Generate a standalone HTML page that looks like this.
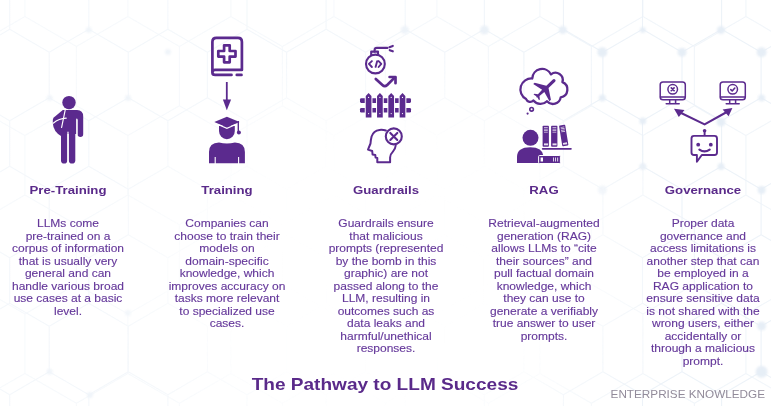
<!DOCTYPE html>
<html><head><meta charset="utf-8">
<style>
html,body{margin:0;padding:0;}
body{width:771px;height:406px;position:relative;overflow:hidden;background:#fff;font-family:"Liberation Sans",sans-serif;}
#bg{position:absolute;left:0;top:0;}
.col{position:absolute;width:160px;top:0;}
.t{position:absolute;left:0;width:160px;text-align:center;top:182px;font-weight:bold;font-size:11.3px;color:#5a2a8a;line-height:16px;white-space:nowrap;transform:scaleX(1.168);transform-origin:80px 0;}
.b{position:absolute;left:0;width:160px;text-align:center;top:218.0px;font-size:10px;line-height:12.5px;color:#65389a;-webkit-text-stroke:0.12px #65389a;white-space:nowrap;transform:scaleX(1.2);transform-origin:80px 0;}
.foot{position:absolute;left:185px;width:400px;text-align:center;top:375px;transform:scaleX(1.12);transform-origin:200px 0;font-weight:bold;font-size:17px;line-height:20px;color:#5a2a8a;white-space:nowrap;}
.ek{position:absolute;left:600px;width:165px;text-align:right;top:388px;transform:scaleX(1.066);transform-origin:165px 0;font-size:11px;line-height:13px;color:#928b9a;white-space:nowrap;}
svg.ic{position:absolute;overflow:visible;}
</style></head><body>
<svg id="bg" width="771" height="406">
<defs>
<linearGradient id="fade" x1="0" y1="0" x2="1" y2="0">
<stop offset="0" stop-color="#999"/>
<stop offset="0.5" stop-color="#aaa"/>
<stop offset="0.78" stop-color="#fff"/>
</linearGradient>
<radialGradient id="rg" cx="0.5" cy="0.5" r="0.5">
<stop offset="0" stop-color="#000" stop-opacity="1"/>
<stop offset="0.55" stop-color="#000" stop-opacity="0.95"/>
<stop offset="1" stop-color="#000" stop-opacity="0"/>
</radialGradient>
<mask id="m" maskUnits="userSpaceOnUse" x="0" y="0" width="771" height="406"><rect width="771" height="406" fill="url(#fade)"/><ellipse cx="390" cy="270" rx="300" ry="230" fill="url(#rg)"/></mask>
<filter id="bl2"><feGaussianBlur stdDeviation="0.5"/></filter>
<filter id="bl" x="-1" y="-1" width="3" height="3"><feGaussianBlur stdDeviation="1.2"/></filter>
</defs>
<g mask="url(#m)" opacity="0.8">
<path d="M-78.1,-161.8L-26.6,-132.0M-26.6,-132.0L-26.6,-72.6M-26.6,-72.6L-78.1,-42.8M-78.1,-42.8L-129.6,-72.6M-129.6,-72.6L-129.6,-132.0M-129.6,-132.0L-78.1,-161.8M24.9,-161.8L76.4,-132.0M76.4,-132.0L76.4,-72.6M76.4,-72.6L24.9,-42.8M24.9,-42.8L-26.6,-72.6M-26.6,-132.0L24.9,-161.8M127.9,-161.8L179.4,-132.0M179.4,-132.0L179.4,-72.6M179.4,-72.6L127.9,-42.8M127.9,-42.8L76.4,-72.6M76.4,-132.0L127.9,-161.8M230.9,-161.8L282.4,-132.0M282.4,-132.0L282.4,-72.6M282.4,-72.6L230.9,-42.8M230.9,-42.8L179.4,-72.6M179.4,-132.0L230.9,-161.8M333.9,-161.8L385.4,-132.0M385.4,-132.0L385.4,-72.6M385.4,-72.6L333.9,-42.8M333.9,-42.8L282.4,-72.6M282.4,-132.0L333.9,-161.8M436.9,-161.8L488.4,-132.0M488.4,-132.0L488.4,-72.6M488.4,-72.6L436.9,-42.8M436.9,-42.8L385.4,-72.6M385.4,-132.0L436.9,-161.8M539.9,-161.8L591.4,-132.0M591.4,-132.0L591.4,-72.6M591.4,-72.6L539.9,-42.8M539.9,-42.8L488.4,-72.6M488.4,-132.0L539.9,-161.8M642.9,-161.8L694.4,-132.0M694.4,-132.0L694.4,-72.6M694.4,-72.6L642.9,-42.8M642.9,-42.8L591.4,-72.6M591.4,-132.0L642.9,-161.8M745.9,-161.8L797.4,-132.0M797.4,-132.0L797.4,-72.6M797.4,-72.6L745.9,-42.8M745.9,-42.8L694.4,-72.6M694.4,-132.0L745.9,-161.8M848.9,-161.8L900.4,-132.0M900.4,-132.0L900.4,-72.6M900.4,-72.6L848.9,-42.8M848.9,-42.8L797.4,-72.6M797.4,-132.0L848.9,-161.8M24.9,-42.8L24.9,16.6M24.9,16.6L-26.6,46.4M-26.6,46.4L-78.1,16.6M-78.1,16.6L-78.1,-42.8M127.9,-42.8L127.9,16.6M127.9,16.6L76.4,46.4M76.4,46.4L24.9,16.6M230.9,-42.8L230.9,16.6M230.9,16.6L179.4,46.4M179.4,46.4L127.9,16.6M333.9,-42.8L333.9,16.6M333.9,16.6L282.4,46.4M282.4,46.4L230.9,16.6M436.9,-42.8L436.9,16.6M436.9,16.6L385.4,46.4M385.4,46.4L333.9,16.6M539.9,-42.8L539.9,16.6M539.9,16.6L488.4,46.4M488.4,46.4L436.9,16.6M642.9,-42.8L642.9,16.6M642.9,16.6L591.4,46.4M591.4,46.4L539.9,16.6M745.9,-42.8L745.9,16.6M745.9,16.6L694.4,46.4M694.4,46.4L642.9,16.6M848.9,-42.8L848.9,16.6M848.9,16.6L797.4,46.4M797.4,46.4L745.9,16.6M-26.6,46.4L-26.6,105.8M-26.6,105.8L-78.1,135.6M-78.1,135.6L-129.6,105.8M-129.6,105.8L-129.6,46.4M-129.6,46.4L-78.1,16.6M76.4,46.4L76.4,105.8M76.4,105.8L24.9,135.6M24.9,135.6L-26.6,105.8M179.4,46.4L179.4,105.8M179.4,105.8L127.9,135.6M127.9,135.6L76.4,105.8M282.4,46.4L282.4,105.8M282.4,105.8L230.9,135.6M230.9,135.6L179.4,105.8M385.4,46.4L385.4,105.8M385.4,105.8L333.9,135.6M333.9,135.6L282.4,105.8M488.4,46.4L488.4,105.8M488.4,105.8L436.9,135.6M436.9,135.6L385.4,105.8M591.4,46.4L591.4,105.8M591.4,105.8L539.9,135.6M539.9,135.6L488.4,105.8M694.4,46.4L694.4,105.8M694.4,105.8L642.9,135.6M642.9,135.6L591.4,105.8M797.4,46.4L797.4,105.8M797.4,105.8L745.9,135.6M745.9,135.6L694.4,105.8M848.9,16.6L900.4,46.4M900.4,46.4L900.4,105.8M900.4,105.8L848.9,135.6M848.9,135.6L797.4,105.8M24.9,135.6L24.9,195.0M24.9,195.0L-26.6,224.8M-26.6,224.8L-78.1,195.0M-78.1,195.0L-78.1,135.6M127.9,135.6L127.9,195.0M127.9,195.0L76.4,224.8M76.4,224.8L24.9,195.0M230.9,135.6L230.9,195.0M230.9,195.0L179.4,224.8M179.4,224.8L127.9,195.0M333.9,135.6L333.9,195.0M333.9,195.0L282.4,224.8M282.4,224.8L230.9,195.0M436.9,135.6L436.9,195.0M436.9,195.0L385.4,224.8M385.4,224.8L333.9,195.0M539.9,135.6L539.9,195.0M539.9,195.0L488.4,224.8M488.4,224.8L436.9,195.0M642.9,135.6L642.9,195.0M642.9,195.0L591.4,224.8M591.4,224.8L539.9,195.0M745.9,135.6L745.9,195.0M745.9,195.0L694.4,224.8M694.4,224.8L642.9,195.0M848.9,135.6L848.9,195.0M848.9,195.0L797.4,224.8M797.4,224.8L745.9,195.0M-26.6,224.8L-26.6,284.2M-26.6,284.2L-78.1,314.0M-78.1,314.0L-129.6,284.2M-129.6,284.2L-129.6,224.8M-129.6,224.8L-78.1,195.0M76.4,224.8L76.4,284.2M76.4,284.2L24.9,314.0M24.9,314.0L-26.6,284.2M179.4,224.8L179.4,284.2M179.4,284.2L127.9,314.0M127.9,314.0L76.4,284.2M282.4,224.8L282.4,284.2M282.4,284.2L230.9,314.0M230.9,314.0L179.4,284.2M385.4,224.8L385.4,284.2M385.4,284.2L333.9,314.0M333.9,314.0L282.4,284.2M488.4,224.8L488.4,284.2M488.4,284.2L436.9,314.0M436.9,314.0L385.4,284.2M591.4,224.8L591.4,284.2M591.4,284.2L539.9,314.0M539.9,314.0L488.4,284.2M694.4,224.8L694.4,284.2M694.4,284.2L642.9,314.0M642.9,314.0L591.4,284.2M797.4,224.8L797.4,284.2M797.4,284.2L745.9,314.0M745.9,314.0L694.4,284.2M848.9,195.0L900.4,224.8M900.4,224.8L900.4,284.2M900.4,284.2L848.9,314.0M848.9,314.0L797.4,284.2M24.9,314.0L24.9,373.4M24.9,373.4L-26.6,403.2M-26.6,403.2L-78.1,373.4M-78.1,373.4L-78.1,314.0M127.9,314.0L127.9,373.4M127.9,373.4L76.4,403.2M76.4,403.2L24.9,373.4M230.9,314.0L230.9,373.4M230.9,373.4L179.4,403.2M179.4,403.2L127.9,373.4M333.9,314.0L333.9,373.4M333.9,373.4L282.4,403.2M282.4,403.2L230.9,373.4M436.9,314.0L436.9,373.4M436.9,373.4L385.4,403.2M385.4,403.2L333.9,373.4M539.9,314.0L539.9,373.4M539.9,373.4L488.4,403.2M488.4,403.2L436.9,373.4M642.9,314.0L642.9,373.4M642.9,373.4L591.4,403.2M591.4,403.2L539.9,373.4M745.9,314.0L745.9,373.4M745.9,373.4L694.4,403.2M694.4,403.2L642.9,373.4M848.9,314.0L848.9,373.4M848.9,373.4L797.4,403.2M797.4,403.2L745.9,373.4M-26.6,403.2L-26.6,462.6M-26.6,462.6L-78.1,492.4M-78.1,492.4L-129.6,462.6M-129.6,462.6L-129.6,403.2M-129.6,403.2L-78.1,373.4M76.4,403.2L76.4,462.6M76.4,462.6L24.9,492.4M24.9,492.4L-26.6,462.6M179.4,403.2L179.4,462.6M179.4,462.6L127.9,492.4M127.9,492.4L76.4,462.6M282.4,403.2L282.4,462.6M282.4,462.6L230.9,492.4M230.9,492.4L179.4,462.6M385.4,403.2L385.4,462.6M385.4,462.6L333.9,492.4M333.9,492.4L282.4,462.6M488.4,403.2L488.4,462.6M488.4,462.6L436.9,492.4M436.9,492.4L385.4,462.6M591.4,403.2L591.4,462.6M591.4,462.6L539.9,492.4M539.9,492.4L488.4,462.6M694.4,403.2L694.4,462.6M694.4,462.6L642.9,492.4M642.9,492.4L591.4,462.6M797.4,403.2L797.4,462.6M797.4,462.6L745.9,492.4M745.9,492.4L694.4,462.6M848.9,373.4L900.4,403.2M900.4,403.2L900.4,462.6M900.4,462.6L848.9,492.4M848.9,492.4L797.4,462.6M24.9,492.4L24.9,551.8M24.9,551.8L-26.6,581.6M-26.6,581.6L-78.1,551.8M-78.1,551.8L-78.1,492.4M127.9,492.4L127.9,551.8M127.9,551.8L76.4,581.6M76.4,581.6L24.9,551.8M230.9,492.4L230.9,551.8M230.9,551.8L179.4,581.6M179.4,581.6L127.9,551.8M333.9,492.4L333.9,551.8M333.9,551.8L282.4,581.6M282.4,581.6L230.9,551.8M436.9,492.4L436.9,551.8M436.9,551.8L385.4,581.6M385.4,581.6L333.9,551.8M539.9,492.4L539.9,551.8M539.9,551.8L488.4,581.6M488.4,581.6L436.9,551.8M642.9,492.4L642.9,551.8M642.9,551.8L591.4,581.6M591.4,581.6L539.9,551.8M745.9,492.4L745.9,551.8M745.9,551.8L694.4,581.6M694.4,581.6L642.9,551.8M848.9,492.4L848.9,551.8M848.9,551.8L797.4,581.6M797.4,581.6L745.9,551.8" stroke="#e9f0f7" stroke-width="1.1" fill="none" opacity="0.75" filter="url(#bl2)"/>
<path d="M-69.4,-107.7L-29.8,-84.8M-29.8,-84.8L-29.8,-39.2M-29.8,-39.2L-69.4,-16.3M-69.4,-16.3L-108.9,-39.2M-108.9,-39.2L-108.9,-84.8M-108.9,-84.8L-69.4,-107.7M9.7,-107.7L49.2,-84.8M49.2,-84.8L49.2,-39.2M49.2,-39.2L9.7,-16.3M9.7,-16.3L-29.8,-39.2M-29.8,-84.8L9.7,-107.7M88.8,-107.7L128.3,-84.8M128.3,-84.8L128.3,-39.2M128.3,-39.2L88.8,-16.3M88.8,-16.3L49.2,-39.2M49.2,-84.8L88.8,-107.7M167.9,-107.7L207.4,-84.8M207.4,-84.8L207.4,-39.2M207.4,-39.2L167.9,-16.3M167.9,-16.3L128.3,-39.2M128.3,-84.8L167.9,-107.7M247.0,-107.7L286.6,-84.8M286.6,-84.8L286.6,-39.2M286.6,-39.2L247.0,-16.3M247.0,-16.3L207.4,-39.2M207.4,-84.8L247.0,-107.7M326.1,-107.7L365.6,-84.8M365.6,-84.8L365.6,-39.2M365.6,-39.2L326.1,-16.3M326.1,-16.3L286.5,-39.2M286.5,-39.2L286.5,-84.8M286.5,-84.8L326.1,-107.7M405.2,-107.7L444.8,-84.8M444.8,-84.8L444.8,-39.2M444.8,-39.2L405.2,-16.3M405.2,-16.3L365.6,-39.2M365.6,-84.8L405.2,-107.7M484.3,-107.7L523.9,-84.8M523.9,-84.8L523.9,-39.2M523.9,-39.2L484.3,-16.3M484.3,-16.3L444.8,-39.2M444.8,-84.8L484.3,-107.7M563.4,-107.7L602.9,-84.8M602.9,-84.8L602.9,-39.2M602.9,-39.2L563.4,-16.3M563.4,-16.3L523.9,-39.2M523.9,-84.8L563.4,-107.7M642.5,-107.7L682.0,-84.8M682.0,-84.8L682.0,-39.2M682.0,-39.2L642.5,-16.3M642.5,-16.3L602.9,-39.2M602.9,-84.8L642.5,-107.7M721.6,-107.7L761.1,-84.8M761.1,-84.8L761.1,-39.2M761.1,-39.2L721.6,-16.3M721.6,-16.3L682.0,-39.2M682.0,-84.8L721.6,-107.7M800.7,-107.7L840.2,-84.8M840.2,-84.8L840.2,-39.2M840.2,-39.2L800.7,-16.3M800.7,-16.3L761.1,-39.2M761.1,-84.8L800.7,-107.7M9.7,-16.3L9.7,29.3M9.7,29.3L-29.8,52.2M-29.8,52.2L-69.4,29.3M-69.4,29.3L-69.4,-16.3M88.8,-16.3L88.8,29.3M88.8,29.3L49.2,52.2M49.2,52.2L9.7,29.3M167.9,-16.3L167.9,29.3M167.9,29.3L128.3,52.2M128.3,52.2L88.8,29.3M247.0,-16.3L247.0,29.3M247.0,29.3L207.4,52.2M207.4,52.2L167.9,29.3M326.1,-16.3L326.1,29.3M326.1,29.3L286.5,52.2M286.5,52.2L247.0,29.3M247.0,-16.3L286.5,-39.2M405.2,-16.3L405.2,29.3M405.2,29.3L365.6,52.2M365.6,52.2L326.1,29.3M484.3,-16.3L484.3,29.3M484.3,29.3L444.8,52.2M444.8,52.2L405.2,29.3M563.4,-16.3L563.4,29.3M563.4,29.3L523.9,52.2M523.9,52.2L484.3,29.3M642.5,-16.3L642.5,29.3M642.5,29.3L602.9,52.2M602.9,52.2L563.4,29.3M721.6,-16.3L721.6,29.3M721.6,29.3L682.0,52.2M682.0,52.2L642.5,29.3M800.7,-16.3L800.7,29.3M800.7,29.3L761.1,52.2M761.1,52.2L721.6,29.3M840.2,-39.2L879.8,-16.3M879.8,-16.3L879.8,29.3M879.8,29.3L840.2,52.2M840.2,52.2L800.7,29.3M-29.8,52.2L-29.8,97.8M-29.8,97.8L-69.4,120.7M-69.4,120.7L-108.9,97.8M-108.9,97.8L-108.9,52.2M-108.9,52.2L-69.4,29.3M49.2,52.2L49.2,97.8M49.2,97.8L9.7,120.7M9.7,120.7L-29.8,97.8M128.3,52.2L128.3,97.8M128.3,97.8L88.8,120.7M88.8,120.7L49.2,97.8M207.4,52.2L207.4,97.8M207.4,97.8L167.9,120.7M167.9,120.7L128.3,97.8M247.0,29.3L286.6,52.2M286.6,52.2L286.6,97.8M286.6,97.8L247.0,120.7M247.0,120.7L207.4,97.8M365.6,52.2L365.6,97.8M365.6,97.8L326.1,120.7M326.1,120.7L286.5,97.8M286.5,97.8L286.5,52.2M444.8,52.2L444.8,97.8M444.8,97.8L405.2,120.7M405.2,120.7L365.6,97.8M523.9,52.2L523.9,97.8M523.9,97.8L484.3,120.7M484.3,120.7L444.8,97.8M602.9,52.2L602.9,97.8M602.9,97.8L563.4,120.7M563.4,120.7L523.9,97.8M682.0,52.2L682.0,97.8M682.0,97.8L642.5,120.7M642.5,120.7L602.9,97.8M761.1,52.2L761.1,97.8M761.1,97.8L721.6,120.7M721.6,120.7L682.0,97.8M840.2,52.2L840.2,97.8M840.2,97.8L800.7,120.7M800.7,120.7L761.1,97.8M9.7,120.7L9.7,166.3M9.7,166.3L-29.8,189.2M-29.8,189.2L-69.4,166.3M-69.4,166.3L-69.4,120.7M88.8,120.7L88.8,166.3M88.8,166.3L49.2,189.2M49.2,189.2L9.7,166.3M167.9,120.7L167.9,166.3M167.9,166.3L128.3,189.2M128.3,189.2L88.8,166.3M247.0,120.7L247.0,166.3M247.0,166.3L207.4,189.2M207.4,189.2L167.9,166.3M326.1,120.7L326.1,166.3M326.1,166.3L286.5,189.2M286.5,189.2L247.0,166.3M247.0,120.7L286.5,97.8M405.2,120.7L405.2,166.3M405.2,166.3L365.6,189.2M365.6,189.2L326.1,166.3M484.3,120.7L484.3,166.3M484.3,166.3L444.8,189.2M444.8,189.2L405.2,166.3M563.4,120.7L563.4,166.3M563.4,166.3L523.9,189.2M523.9,189.2L484.3,166.3M642.5,120.7L642.5,166.3M642.5,166.3L602.9,189.2M602.9,189.2L563.4,166.3M721.6,120.7L721.6,166.3M721.6,166.3L682.0,189.2M682.0,189.2L642.5,166.3M800.7,120.7L800.7,166.3M800.7,166.3L761.1,189.2M761.1,189.2L721.6,166.3M840.2,97.8L879.8,120.7M879.8,120.7L879.8,166.3M879.8,166.3L840.2,189.2M840.2,189.2L800.7,166.3M-29.8,189.2L-29.8,234.8M-29.8,234.8L-69.4,257.7M-69.4,257.7L-108.9,234.8M-108.9,234.8L-108.9,189.2M-108.9,189.2L-69.4,166.3M49.2,189.2L49.2,234.8M49.2,234.8L9.7,257.7M9.7,257.7L-29.8,234.8M128.3,189.2L128.3,234.8M128.3,234.8L88.8,257.7M88.8,257.7L49.2,234.8M207.4,189.2L207.4,234.8M207.4,234.8L167.9,257.7M167.9,257.7L128.3,234.8M247.0,166.3L286.6,189.2M286.6,189.2L286.6,234.8M286.6,234.8L247.0,257.7M247.0,257.7L207.4,234.8M365.6,189.2L365.6,234.8M365.6,234.8L326.1,257.7M326.1,257.7L286.5,234.8M286.5,234.8L286.5,189.2M444.8,189.2L444.8,234.8M444.8,234.8L405.2,257.7M405.2,257.7L365.6,234.8M523.9,189.2L523.9,234.8M523.9,234.8L484.3,257.7M484.3,257.7L444.8,234.8M602.9,189.2L602.9,234.8M602.9,234.8L563.4,257.7M563.4,257.7L523.9,234.8M682.0,189.2L682.0,234.8M682.0,234.8L642.5,257.7M642.5,257.7L602.9,234.8M761.1,189.2L761.1,234.8M761.1,234.8L721.6,257.7M721.6,257.7L682.0,234.8M840.2,189.2L840.2,234.8M840.2,234.8L800.7,257.7M800.7,257.7L761.1,234.8M9.7,257.7L9.7,303.3M9.7,303.3L-29.8,326.2M-29.8,326.2L-69.4,303.3M-69.4,303.3L-69.4,257.7M88.8,257.7L88.8,303.3M88.8,303.3L49.2,326.2M49.2,326.2L9.7,303.3M167.9,257.7L167.9,303.3M167.9,303.3L128.3,326.2M128.3,326.2L88.8,303.3M247.0,257.7L247.0,303.3M247.0,303.3L207.4,326.2M207.4,326.2L167.9,303.3M326.1,257.7L326.1,303.3M326.1,303.3L286.5,326.2M286.5,326.2L247.0,303.3M247.0,257.7L286.5,234.8M405.2,257.7L405.2,303.3M405.2,303.3L365.6,326.2M365.6,326.2L326.1,303.3M484.3,257.7L484.3,303.3M484.3,303.3L444.8,326.2M444.8,326.2L405.2,303.3M563.4,257.7L563.4,303.3M563.4,303.3L523.9,326.2M523.9,326.2L484.3,303.3M642.5,257.7L642.5,303.3M642.5,303.3L602.9,326.2M602.9,326.2L563.4,303.3M721.6,257.7L721.6,303.3M721.6,303.3L682.0,326.2M682.0,326.2L642.5,303.3M800.7,257.7L800.7,303.3M800.7,303.3L761.1,326.2M761.1,326.2L721.6,303.3M840.2,234.8L879.8,257.7M879.8,257.7L879.8,303.3M879.8,303.3L840.2,326.2M840.2,326.2L800.7,303.3M-29.8,326.2L-29.8,371.8M-29.8,371.8L-69.4,394.7M-69.4,394.7L-108.9,371.8M-108.9,371.8L-108.9,326.2M-108.9,326.2L-69.4,303.3M49.2,326.2L49.2,371.8M49.2,371.8L9.7,394.7M9.7,394.7L-29.8,371.8M128.3,326.2L128.3,371.8M128.3,371.8L88.8,394.7M88.8,394.7L49.2,371.8M207.4,326.2L207.4,371.8M207.4,371.8L167.9,394.7M167.9,394.7L128.3,371.8M247.0,303.3L286.6,326.2M286.6,326.2L286.6,371.8M286.6,371.8L247.0,394.7M247.0,394.7L207.4,371.8M365.6,326.2L365.6,371.8M365.6,371.8L326.1,394.7M326.1,394.7L286.5,371.8M286.5,371.8L286.5,326.2M444.8,326.2L444.8,371.8M444.8,371.8L405.2,394.7M405.2,394.7L365.6,371.8M523.9,326.2L523.9,371.8M523.9,371.8L484.3,394.7M484.3,394.7L444.8,371.8M602.9,326.2L602.9,371.8M602.9,371.8L563.4,394.7M563.4,394.7L523.9,371.8M682.0,326.2L682.0,371.8M682.0,371.8L642.5,394.7M642.5,394.7L602.9,371.8M761.1,326.2L761.1,371.8M761.1,371.8L721.6,394.7M721.6,394.7L682.0,371.8M840.2,326.2L840.2,371.8M840.2,371.8L800.7,394.7M800.7,394.7L761.1,371.8M9.7,394.7L9.7,440.3M9.7,440.3L-29.8,463.2M-29.8,463.2L-69.4,440.3M-69.4,440.3L-69.4,394.7M88.8,394.7L88.8,440.3M88.8,440.3L49.2,463.2M49.2,463.2L9.7,440.3M167.9,394.7L167.9,440.3M167.9,440.3L128.3,463.2M128.3,463.2L88.8,440.3M247.0,394.7L247.0,440.3M247.0,440.3L207.4,463.2M207.4,463.2L167.9,440.3M326.1,394.7L326.1,440.3M326.1,440.3L286.5,463.2M286.5,463.2L247.0,440.3M247.0,394.7L286.5,371.8M405.2,394.7L405.2,440.3M405.2,440.3L365.6,463.2M365.6,463.2L326.1,440.3M484.3,394.7L484.3,440.3M484.3,440.3L444.8,463.2M444.8,463.2L405.2,440.3M563.4,394.7L563.4,440.3M563.4,440.3L523.9,463.2M523.9,463.2L484.3,440.3M642.5,394.7L642.5,440.3M642.5,440.3L602.9,463.2M602.9,463.2L563.4,440.3M721.6,394.7L721.6,440.3M721.6,440.3L682.0,463.2M682.0,463.2L642.5,440.3M800.7,394.7L800.7,440.3M800.7,440.3L761.1,463.2M761.1,463.2L721.6,440.3M840.2,371.8L879.8,394.7M879.8,394.7L879.8,440.3M879.8,440.3L840.2,463.2M840.2,463.2L800.7,440.3M-29.8,463.2L-29.8,508.8M-29.8,508.8L-69.4,531.7M-69.4,531.7L-108.9,508.8M-108.9,508.8L-108.9,463.2M-108.9,463.2L-69.4,440.3M49.2,463.2L49.2,508.8M49.2,508.8L9.7,531.7M9.7,531.7L-29.8,508.8M128.3,463.2L128.3,508.8M128.3,508.8L88.8,531.7M88.8,531.7L49.2,508.8M207.4,463.2L207.4,508.8M207.4,508.8L167.9,531.7M167.9,531.7L128.3,508.8M247.0,440.3L286.6,463.2M286.6,463.2L286.6,508.8M286.6,508.8L247.0,531.7M247.0,531.7L207.4,508.8M365.6,463.2L365.6,508.8M365.6,508.8L326.1,531.7M326.1,531.7L286.5,508.8M286.5,508.8L286.5,463.2M444.8,463.2L444.8,508.8M444.8,508.8L405.2,531.7M405.2,531.7L365.6,508.8M523.9,463.2L523.9,508.8M523.9,508.8L484.3,531.7M484.3,531.7L444.8,508.8M602.9,463.2L602.9,508.8M602.9,508.8L563.4,531.7M563.4,531.7L523.9,508.8M682.0,463.2L682.0,508.8M682.0,508.8L642.5,531.7M642.5,531.7L602.9,508.8M761.1,463.2L761.1,508.8M761.1,508.8L721.6,531.7M721.6,531.7L682.0,508.8M840.2,463.2L840.2,508.8M840.2,508.8L800.7,531.7M800.7,531.7L761.1,508.8" stroke="#e9f0f7" stroke-width="1.1" fill="none" filter="url(#bl2)"/>
<g fill="#e1eaf4" filter="url(#bl)"><circle cx="88.8" cy="30" r="3"/><circle cx="128" cy="98" r="3"/><circle cx="404.8" cy="30" r="4"/><circle cx="484.4" cy="30" r="4.5"/><circle cx="562.8" cy="30" r="4"/><circle cx="602.3" cy="52.2" r="5"/><circle cx="682" cy="52.2" r="4.5"/><circle cx="721" cy="30" r="4"/><circle cx="761.6" cy="52.2" r="5"/><circle cx="642.8" cy="30" r="3"/><circle cx="602.3" cy="98" r="3.5"/><circle cx="761.6" cy="98" r="3.5"/><circle cx="642.8" cy="120.9" r="3.5"/><circle cx="721" cy="122" r="4.5"/><circle cx="642.8" cy="166.6" r="3.5"/><circle cx="721" cy="166.6" r="3.5"/><circle cx="602.3" cy="190" r="4.5"/><circle cx="761.6" cy="190" r="4"/><circle cx="761.6" cy="326" r="4.5"/><circle cx="761.6" cy="371.8" r="6"/><circle cx="49.6" cy="371.8" r="3"/><circle cx="90" cy="395" r="3"/><circle cx="128" cy="313" r="3"/><circle cx="49.6" cy="98" r="3"/><circle cx="168" cy="52" r="3"/></g>
</g>
</svg>

<div class="col" style="left:-11.9px">
<div class="t">Pre-Training</div>
<div class="b">LLMs come<br>pre-trained on a<br>corpus of information<br>that is usually very<br>general and can<br>handle various broad<br>use cases at a basic<br>level.</div>
</div>

<div class="col" style="left:146.7px">
<div class="t">Training</div>
<div class="b">Companies can<br>choose to train their<br>models on<br>domain-specific<br>knowledge, which<br>improves accuracy on<br>tasks more relevant<br>to specialized use<br>cases.</div>
</div>

<div class="col" style="left:305.5px">
<div class="t">Guardrails</div>
<div class="b">Guardrails ensure<br>that malicious<br>prompts (represented<br>by the bomb in this<br>graphic) are not<br>passed along to the<br>LLM, resulting in<br>outcomes such as<br>data leaks and<br>harmful/unethical<br>responses.</div>
</div>

<div class="col" style="left:464.2px">
<div class="t">RAG</div>
<div class="b">Retrieval-augmented<br>generation (RAG)<br>allows LLMs to “cite<br>their sources” and<br>pull factual domain<br>knowledge, which<br>they can use to<br>generate a verifiably<br>true answer to user<br>prompts.</div>
</div>

<div class="col" style="left:622.6px">
<div class="t">Governance</div>
<div class="b">Proper data<br>governance and<br>access limitations is<br>another step that can<br>be employed in a<br>RAG application to<br>ensure sensitive data<br>is not shared with the<br>wrong users, either<br>accidentally or<br>through a malicious<br>prompt.</div>
</div>

<svg class="ic" width="771" height="406" style="left:0;top:0">
<g fill="#5b2a8e" stroke="none">
<!-- Pre-Training person -->
<circle cx="69" cy="102.6" r="6.7"/>
<path d="M61,134 V115 Q61,110 66,110 H77 Q83.2,110 83.2,116.5 V134.3 Q83.2,137 80.4,137 Q77.6,137 77.6,134.3 V119.5 L76.6,119.5 V134 Z"/>
<path d="M66,110 H62.8 L53.8,117.6 Q52.8,118.6 52.8,120.5 V123 Q53.3,131.5 61,136 H66 Z"/>
<path d="M61,130 H67.3 V160.4 Q67.3,163.5 64.15,163.5 Q61,163.5 61,160.4 Z"/>
<path d="M68.8,130 H75.3 V160.4 Q75.3,163.5 72.05,163.5 Q68.8,163.5 68.8,160.4 Z"/>
</g>
<g fill="none" stroke="#fff" stroke-width="1.2" stroke-linecap="round">
<path d="M65.3,109.5 L61.6,127.5"/>
<path d="M53.2,123.2 Q59,118.5 66.2,118.2"/>
<path d="M76.8,119 V135"/>
<path d="M68,132 V164"/>
</g>
<!-- Training -->
<g fill="none" stroke="#5b2a8e" stroke-width="2.7" stroke-linecap="round" stroke-linejoin="round">
<path d="M231.5,74.9 H215.2 Q212.4,74.9 212.4,72.4 V41.9 Q212.4,37.9 216.4,37.9 H237.9 Q241.9,37.9 241.9,41.9 V69.9 H215.2 Q212.4,69.9 212.4,72.4"/>
<path d="M236.8,74.9 H241.5"/>
<path d="M224.1,45.3 H229.7 V51 H235.5 V56.6 H229.7 V62.3 H224.1 V56.6 H218.3 V51 H224.1 Z"/>
</g>
<g fill="#5b2a8e">
<rect x="225.9" y="82" width="1.8" height="19"/>
<path d="M222.9,99.4 H231.1 L226.8,110.2 Z"/>
<!-- graduate -->
<path d="M214.3,122 L226.9,116.8 L239.6,122 L226.9,127.6 Z"/>
<path d="M238.4,122 V131"/>
<circle cx="238.9" cy="132.6" r="2"/>
<path d="M219,126 H234.8 V131 A7.9,8.2 0 0 1 219,131 Z"/>
<path d="M209,163.2 V152 Q209,143 219,142.6 Q226.9,144.5 234.9,142.6 Q244.9,143 244.9,152 V163.2 Z"/>
</g>
<rect x="237.6" y="121" width="1.4" height="11" fill="#5b2a8e"/>
<g fill="none" stroke="#fff" stroke-width="1.1">
<path d="M218.5,124.8 L226.9,128.3 L235.3,124.8"/>
<path d="M215.2,157 V164 M238.6,157 V164"/>
</g>
<!-- Guardrails bomb -->
<g fill="none" stroke="#5b2a8e" stroke-width="2.1" stroke-linecap="round" stroke-linejoin="round">
<circle cx="375.4" cy="64" r="9.4"/>
<path d="M371.2,55 V51.6 H378 V55"/>
<path d="M374.6,51.6 V50 Q374.6,47.9 377,47.9 H387.5"/>
<path d="M389.4,47.2 L392.8,45.9 M389.7,50.2 L392.8,51.3"/>
<path d="M371.9,61.1 L368.9,63.9 L371.9,67 M378.6,61.1 L381.3,63.9 L378.6,67 M377.2,61.1 L375.6,66.9" stroke-width="1.9"/>
<path d="M375.8,79 L382.4,85.1 Q384.8,87.3 387.2,85 L394.8,77.4" stroke-width="2.7"/>
<path d="M389.6,77 H395.5 V83.2" stroke-width="2.7"/>
</g>
<!-- fence -->
<g fill="#5b2a8e">
<rect x="360" y="98.2" width="51" height="4.7" rx="1.3"/>
<rect x="360" y="107.9" width="51" height="4.7" rx="1.3"/>
</g>
<g fill="#5b2a8e" stroke="#fff" stroke-width="2" paint-order="stroke" stroke-linejoin="round">
<path d="M365.75,117.6 V96 L368.6,93 L371.45,96 V117.6 Z"/>
<path d="M377.05,117.6 V96 L379.9,93 L382.75,96 V117.6 Z"/>
<path d="M388.35,117.6 V96 L391.2,93 L394.05,96 V117.6 Z"/>
<path d="M399.65,117.6 V96 L402.5,93 L405.35,96 V117.6 Z"/>
</g>
<g fill="#fff">
<circle cx="368.6" cy="97.4" r="0.6"/><circle cx="379.9" cy="97.4" r="0.6"/><circle cx="391.2" cy="97.4" r="0.6"/><circle cx="402.5" cy="97.4" r="0.6"/>
<circle cx="368.6" cy="113.6" r="0.6"/><circle cx="379.9" cy="113.6" r="0.6"/><circle cx="391.2" cy="113.6" r="0.6"/><circle cx="402.5" cy="113.6" r="0.6"/>
</g>
<!-- head with x -->
<g fill="none" stroke="#5b2a8e" stroke-width="2" stroke-linecap="round" stroke-linejoin="round">
<circle cx="393.8" cy="136.4" r="8" stroke-width="2.1"/>
<path d="M390.3,132.9 L397.3,139.9 M397.3,132.9 L390.3,139.9" stroke-width="2.1"/>
<path d="M385.9,130.5 Q383,129.6 379.5,129.9 Q373.5,130.6 371.6,136.5 Q370.8,139.5 370.5,143.5 L368,149.6 L372.2,151 L372.6,154.6 L375.3,155.1 L375.6,157.6 L377.3,158 V162.2 H390.1 V157.4 Q390.1,154.4 392.9,151.6 Q395.4,149 395.7,145.5"/>
</g>
<!-- RAG cloud -->
<g fill="none" stroke="#5b2a8e" stroke-width="2.3" stroke-linecap="round" stroke-linejoin="round">
<path d="M526.1,99.1 A11,11 0 0 1 532.3,78.5 A9.9,9.9 0 0 1 551,74.4 A7.2,7.2 0 0 1 562.4,82.1 A8,8 0 0 1 560.7,97.4 A7.85,7.85 0 0 1 547,101.2 A9.2,9.2 0 0 1 533.4,100.5 A4.4,4.4 0 0 1 526.1,99.1 Z"/>
<circle cx="531.6" cy="109.3" r="1.8" stroke-width="1.6"/>
</g>
<circle cx="527.6" cy="113.6" r="1.1" fill="#5b2a8e"/>
<g fill="#5b2a8e" transform="translate(545.4,88.8) rotate(-43.5)">
<path d="M11.8,-1.6 L2.8,-1.6 L-3.6,-11.8 L-5.6,-11.8 L-3,-1.6 L-9.2,-1.1 L-11.4,-4 L-12.6,-4 L-11.7,-0.9 L-12.4,0 L-11.7,0.9 L-12.6,4 L-11.4,4 L-9.2,1.1 L-3,1.6 L-5.6,11.8 L-3.6,11.8 L2.8,1.6 L11.8,1.6 A1.6,1.6 0 0 0 11.8,-1.6 Z"/>
</g>
<!-- person with books -->
<g fill="#5b2a8e">
<circle cx="530.5" cy="137.8" r="8"/>
<path d="M517,163 V157 Q517,147.2 530.3,147.2 Q542.5,147.2 543.5,156 V163 Z"/>
</g>
<rect x="538.6" y="155.5" width="21.8" height="8" rx="1" fill="#5b2a8e" stroke="#fff" stroke-width="1"/>
<g fill="#fff"><rect x="540.6" y="157.5" width="2.4" height="4"/><rect x="553.1" y="157.5" width="0.8" height="4"/><rect x="555.1" y="157.5" width="0.8" height="4"/><rect x="557.3" y="157.5" width="0.8" height="4"/></g>
<g fill="#5b2a8e">
<rect x="541.8" y="147.9" width="30" height="1.8" rx="0.9"/>
<rect x="542.6" y="125.7" width="6.3" height="21.1" rx="0.8"/>
<rect x="551.1" y="125.7" width="6.3" height="21.1" rx="0.8"/>
<g transform="rotate(-9.2 565.35 145.45)"><rect x="562.25" y="124.9" width="6.2" height="20.9" rx="0.8"/></g>
</g>
<g fill="#fff" opacity="0.85">
<rect x="544" y="127.3" width="3.8" height="0.7"/><rect x="544" y="128.8" width="3.8" height="0.7"/><rect x="544" y="130.3" width="3.8" height="0.7"/><rect x="544" y="131.8" width="3.8" height="0.7"/>
<rect x="544" y="143.4" width="4.1" height="1.9" opacity="1"/>
<rect x="552.5" y="127.3" width="3.8" height="0.7"/><rect x="552.5" y="128.8" width="3.8" height="0.7"/><rect x="552.5" y="130.3" width="3.8" height="0.7"/><rect x="552.5" y="131.8" width="3.8" height="0.7"/>
<rect x="552.5" y="143.4" width="4.1" height="1.9"/>
<g transform="rotate(-9.2 565.35 145.45)"><rect x="563.5" y="126.6" width="3.8" height="0.7"/><rect x="563.5" y="128.1" width="3.8" height="0.7"/><rect x="563.5" y="129.6" width="3.8" height="0.7"/><rect x="563.5" y="131.1" width="3.8" height="0.7"/><rect x="563.3" y="142.6" width="4.1" height="1.9"/></g>
</g>
<!-- Governance monitors -->
<g fill="none" stroke="#5b2a8e" stroke-width="1.5" stroke-linecap="round" stroke-linejoin="round">
<rect x="660.2" y="82" width="25.1" height="17.7" rx="2.8"/>
<path d="M660.5,97 H685"/>
<path d="M669.7,100.2 V103.6 M675.6,100.2 V103.6 M666.2,103.8 H679.2"/>
<circle cx="672.7" cy="89.3" r="4.8"/>
<path d="M671.3,87.9 L674.1,90.7 M674.1,87.9 L671.3,90.7" stroke-width="1.7"/>
<rect x="720.2" y="82" width="25.1" height="17.7" rx="2.8"/>
<path d="M720.5,97 H745"/>
<path d="M729.7,100.2 V103.6 M735.6,100.2 V103.6 M726.2,103.8 H739.2"/>
<circle cx="732.7" cy="89.3" r="4.8"/>
<path d="M730.8,89.6 L732.2,91 L734.8,88" stroke-width="1.6"/>
</g>
<g fill="none" stroke="#5b2a8e" stroke-width="1.9" stroke-linecap="round" stroke-linejoin="round">
<path d="M677,111 L704.6,124.4 L729.5,110.5" stroke-width="2.1"/>
<path d="M696.9,155 H694 Q691.5,155 691.5,152.5 V138.4 Q691.5,135.9 694,135.9 H714.5 Q717,135.9 717,138.4 V152.5 Q717,155 714.5,155 H701.8 L696.9,161.8 Z"/>
<path d="M704.6,131.5 V135"/>
<path d="M699.4,149.6 Q704.5,153.2 709.7,149.6" stroke-width="2.2"/>
</g>
<g fill="#5b2a8e">
<path d="M674,108.8 L684.5,110 L678.8,117 Z"/>
<path d="M732.4,108 L728.6,116.2 L722.6,109.6 Z"/>
<circle cx="704.6" cy="130.7" r="1.8"/>
<circle cx="698.2" cy="144.7" r="1.9"/><circle cx="710.8" cy="144.7" r="1.9"/>
</g>
</svg>

<div class="foot">The Pathway to LLM Success</div>
<div class="ek">ENTERPRISE KNOWLEDGE</div>

</body></html>
